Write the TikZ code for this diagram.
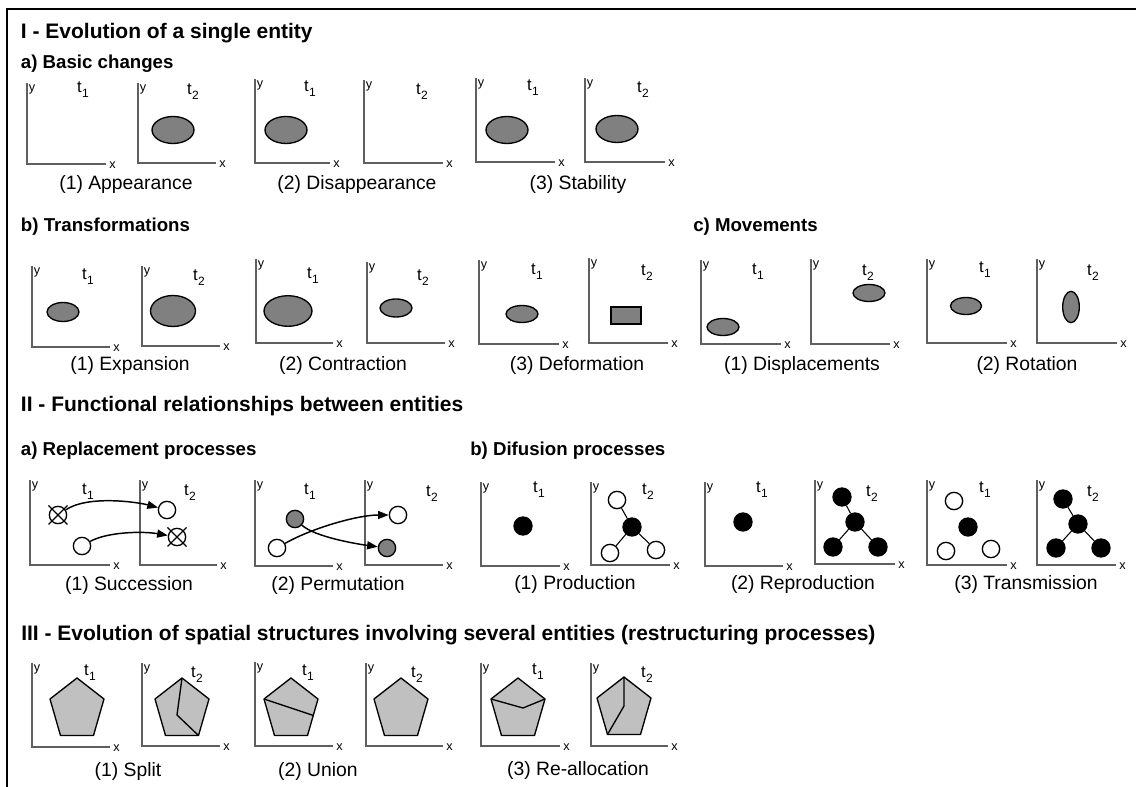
\documentclass[tikz,border=0pt]{standalone}
\usepackage{fontspec}
\setmainfont{Liberation Sans}
\usetikzlibrary{arrows.meta}

\definecolor{axisgray}{RGB}{95,95,95}
\definecolor{blobgray}{RGB}{128,128,128}
\definecolor{polygray}{RGB}{192,192,192}

\tikzset{
  axisline/.style={draw=axisgray, line width=0.8pt},
  blob/.style={draw=black, fill=blobgray, line width=1pt},
  poly/.style={draw=black, fill=polygray, line width=1pt, line join=round},
  polyline/.style={draw=black, line width=1pt, line join=round},
  axlabel/.style={font=\fontsize{9.5}{10}\selectfont, inner sep=0pt},
  tlabel/.style={font=\fontsize{12.5}{13}\selectfont, inner sep=0pt},
  caption/.style={font=\fontsize{14.5}{16}\selectfont, inner sep=0pt, anchor=base},
  heading/.style={font=\bfseries\fontsize{15.75}{18}\selectfont, inner sep=0pt, anchor=base west},
  subheading/.style={font=\bfseries\fontsize{14}{16}\selectfont, inner sep=0pt, anchor=base west},
  entity/.style={circle, draw=black, line width=1pt, inner sep=0pt, minimum size=13pt},
  entwhite/.style={entity, fill=white},
  entblack/.style={entity, fill=black, minimum size=13.5pt},
  entgray/.style={entity, fill=blobgray},
  flow/.style={line width=1.1pt, -{Triangle[length=8pt, width=6pt]}},
  link/.style={line width=0.8pt},
}

% t with a lowered index
\newcommand{\tsub}[1]{t\kern0.2pt\raisebox{-0.3em}{\fontsize{9}{9}\selectfont #1}}

% one small x/y frame: name, x0, top, bottom, x end, t-label x, t-label y, index
\newcommand{\xyframe}[8]{%
  \draw[axisline] (#2,#3) -- (#2,#4) -- (#5,#4);
  \node[axlabel] (#1-y) at (#2+5,#3+6) {y};
  \node[axlabel] (#1-x) at (#5+6.5,#4+1) {x};
  \node[tlabel] (#1-t) at (#6,#7) {\tsub{#8}};
}

% pentagon given by its top vertex
\newcommand{\pentagon}[2]{%
  \filldraw[poly] (#1,#2) -- ++(27,21) -- ++(-10.5,36.5) -- ++(-33,0) -- ++(-10.5,-36.5) -- cycle;
}

\begin{document}
\begin{tikzpicture}[x=0.75pt, y=-0.75pt]
\useasboundingbox (0,0) rectangle (1136,787);

% page frame
\draw[line width=1pt] (7,787) -- (7,9) -- (1136,9);

% ---------------- I ----------------
\node[heading] (h1) at (20.7,39) {I - Evolution of a single entity};
\node[subheading] (h1a) at (20.7,69) {a) Basic changes};

\xyframe{a1}{27}{83}{164}{106}{83}{90}{1}
\xyframe{a2}{138}{83}{163}{216}{193}{92}{2}
\xyframe{a3}{255}{79}{163}{330}{310}{89}{1}
\xyframe{a4}{364}{80}{163}{443}{422}{92}{2}
\xyframe{a5}{476}{78}{162}{555}{533}{88}{1}
\xyframe{a6}{585}{78}{162}{665}{643}{90}{2}

\filldraw[blob] (173,130) ellipse [x radius=21, y radius=13.5];
\filldraw[blob] (286,130) ellipse [x radius=21, y radius=13.5];
\filldraw[blob] (507,130) ellipse [x radius=21, y radius=13.5];
\filldraw[blob] (617,129) ellipse [x radius=21, y radius=13.5];

\node[caption] (c1) at (126,190) {(1) Appearance};
\node[caption] (c2) at (357,190) {(2) Disappearance};
\node[caption] (c3) at (578,190) {(3) Stability};

\node[subheading] (h1b) at (20.7,232) {b) Transformations};
\node[subheading] (h1c) at (693,232) {c) Movements};

\xyframe{b1}{32}{266}{347}{110}{88}{277}{1}
\xyframe{b2}{142}{266}{346}{220}{199}{278}{2}
\xyframe{b3}{256}{259}{343}{333}{313}{276}{1}
\xyframe{b4}{367}{262}{343}{445}{423}{278}{2}
\xyframe{b5}{479}{260}{344}{559}{537}{272}{1}
\xyframe{b6}{589}{258}{343}{668}{647}{273}{2}
\xyframe{b7}{701}{260}{344}{781}{758}{272}{1}
\xyframe{b8}{811}{259}{344}{890}{868}{273}{2}
\xyframe{b9}{927}{259}{343}{1007}{985}{270}{1}
\xyframe{b10}{1037}{259}{343}{1117}{1093}{273}{2}

\filldraw[blob] (63,312) ellipse [x radius=16, y radius=9.5];
\filldraw[blob] (173,311) ellipse [x radius=22.5, y radius=15.5];
\filldraw[blob] (288,311) ellipse [x radius=24, y radius=15.3];
\filldraw[blob] (396,308) ellipse [x radius=16, y radius=9];
\filldraw[blob] (522,314) ellipse [x radius=16, y radius=8.5];
\filldraw[blob] (611,307) rectangle (641,324);
\filldraw[blob] (723,327) ellipse [x radius=16, y radius=8.5];
\filldraw[blob] (869,293) ellipse [x radius=16, y radius=8.5];
\filldraw[blob] (966,306) ellipse [x radius=15.5, y radius=8.5];
\filldraw[blob] (1071,307) ellipse [x radius=8.3, y radius=15.7];

\node[caption] (c4) at (130,371) {(1) Expansion};
\node[caption] (c5) at (343,371) {(2) Contraction};
\node[caption] (c6) at (577,371) {(3) Deformation};
\node[caption] (c7) at (802,371) {(1) Displacements};
\node[caption] (c8) at (1027,371) {(2) Rotation};

% ---------------- II ----------------
\node[heading] (h2) at (20.7,412) {II - Functional relationships between entities};
\node[subheading] (h2a) at (20.7,456) {a) Replacement processes};
\node[subheading] (h2b) at (470,456) {b) Difusion processes};

\xyframe{r1}{30}{480}{565}{110}{88}{492}{1}
\xyframe{r2}{140}{480}{565}{217}{190}{493}{2}
\xyframe{r3}{255}{480}{566}{333}{310}{492}{1}
\xyframe{r4}{365}{480}{565}{443}{432}{494}{2}
\xyframe{r5}{481}{482}{566}{560}{539}{490}{1}
\xyframe{r6}{591}{482}{565}{670}{648}{492}{2}
\xyframe{r7}{705}{482}{566}{783}{762}{490}{1}
\xyframe{r8}{815}{480}{564}{895}{872}{494}{2}
\xyframe{r9}{927}{480}{565}{1007}{985}{490}{1}
\xyframe{r10}{1037}{480}{565}{1116}{1093}{494}{2}

% succession
\node[entwhite] (sx1) at (58,515) {};
\node[entwhite] (sw1) at (82,546) {};
\node[entwhite] (sw2) at (167,510) {};
\node[entwhite] (sx2) at (177,537) {};
\draw[link] ([shift={(-9.5,-9.5)}]sx1.center) -- ([shift={(9.5,9.5)}]sx1.center);
\draw[link] ([shift={(9.5,-9.5)}]sx1.center) -- ([shift={(-9.5,9.5)}]sx1.center);
\draw[link] ([shift={(-9.5,-9.5)}]sx2.center) -- ([shift={(9.5,9.5)}]sx2.center);
\draw[link] ([shift={(9.5,-9.5)}]sx2.center) -- ([shift={(-9.5,9.5)}]sx2.center);
\draw[flow] (sx1) .. controls +(30,-20) and +(-30,-8) .. (sw2);
\draw[flow] (sw1) .. controls +(25,-14) and +(-35,-6) .. (sx2);

% permutation
\node[entgray]  (pg1) at (295,519) {};
\node[entwhite] (pw1) at (277,548) {};
\node[entwhite] (pw2) at (398,515) {};
\node[entgray]  (pg2) at (387,548) {};
\draw[flow] (pw1) .. controls +(35,-20) and +(-40,0) .. (pw2);
\draw[flow] (pg1) .. controls +(20,18) and +(-30,-4) .. (pg2);

% production
\node[entblack] (pa) at (523,526) {};
\node[entblack] (pbc) at (632,527) {};
\node[entwhite] (pbt) at (617,500) {};
\node[entwhite] (pbl) at (610,553) {};
\node[entwhite] (pbr) at (656,550) {};
\draw[link] (pbc) -- (pbt);
\draw[link] (pbc) -- (pbl);
\draw[link] (pbc) -- (pbr);

% reproduction
\node[entblack] (ra) at (743,522) {};
\node[entblack] (rbt) at (842,497) {};
\node[entblack] (rbc) at (855,522) {};
\node[entblack] (rbl) at (833,547) {};
\node[entblack] (rbr) at (878,547) {};
\draw[link] (rbc) -- (rbt);
\draw[link] (rbc) -- (rbl);
\draw[link] (rbc) -- (rbr);

% transmission
\node[entwhite] (tat) at (954,501) {};
\node[entblack] (tac) at (968,527) {};
\node[entwhite] (tal) at (946,551) {};
\node[entwhite] (tar) at (991,549) {};
\node[entblack] (tbt) at (1063,499) {};
\node[entblack] (tbc) at (1078,524) {};
\node[entblack] (tbl) at (1056,548) {};
\node[entblack] (tbr) at (1101,548) {};
\draw[link] (tbc) -- (tbt);
\draw[link] (tbc) -- (tbl);
\draw[link] (tbc) -- (tbr);

\node[caption] (c9) at (129,591) {(1) Succession};
\node[caption] (c10) at (338,591) {(2) Permutation};
\node[caption] (c11) at (575,590) {(1) Production};
\node[caption] (c12) at (803,590) {(2) Reproduction};
\node[caption] (c13) at (1026,590) {(3) Transmission};

% ---------------- III ----------------
\node[heading] (h3) at (21,641) {III - Evolution of spatial structures involving several entities (restructuring processes)};

\xyframe{s1}{32}{663}{747}{110}{90}{673}{1}
\xyframe{s2}{142}{663}{746}{220}{197}{675}{2}
\xyframe{s3}{255}{662}{746}{333}{308}{673}{1}
\xyframe{s4}{366}{663}{746}{443}{417}{675}{2}
\xyframe{s5}{481}{663}{746}{560}{538}{672}{1}
\xyframe{s6}{591}{663}{746}{668}{647}{675}{2}

\pentagon{77}{678}
\pentagon{182}{678}
\draw[polyline] (182,678) -- (177,715) -- (198.5,735.5);
\pentagon{291}{678}
\draw[polyline] (264,699) -- (313.3,715.4);
\pentagon{401}{678}
\pentagon{518}{678}
\draw[polyline] (491,699) -- (523,708) -- (545,699);
\pentagon{624}{677}
\draw[polyline] (624,677) -- (624,706) -- (607.5,734.5);

\node[caption] (c14) at (128,776) {(1) Split};
\node[caption] (c15) at (318,776) {(2) Union};
\node[caption] (c16) at (578,775) {(3) Re-allocation};
\end{tikzpicture}
\end{document}
